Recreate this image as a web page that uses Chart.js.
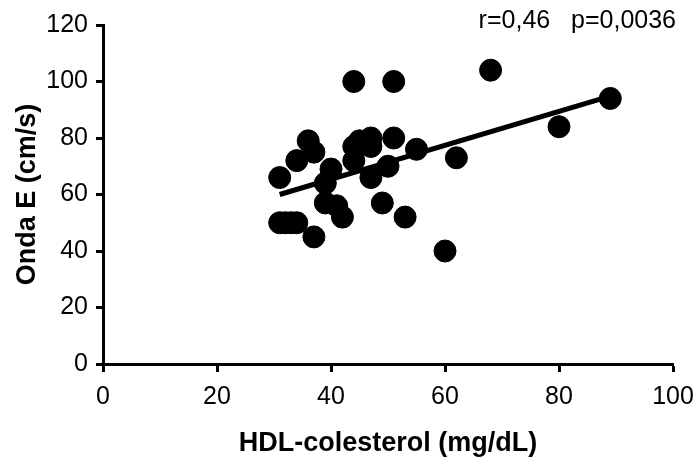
<!DOCTYPE html>
<html>
<head>
<meta charset="utf-8">
<script src="https://cdn.jsdelivr.net/npm/chart.js@4"></script>
<style>
html, body { margin: 0; padding: 0; background: #fff; }
</style>
</head>
<body>
<canvas id="hdl_chart" width="695" height="462"></canvas>
<script>
// HDL-colesterol (mg/dL) vs Onda E (cm/s)
var hdl   = [31, 31, 32, 33, 34, 34, 36, 37, 37, 39, 40, 39, 41, 42, 44, 45, 44, 44, 47, 47, 47, 50, 51, 51, 49, 53, 55, 60, 62, 68, 80, 89];
var ondaE = [66, 50, 50, 50, 50, 72, 79, 75, 45, 64, 69, 57, 56, 52, 100, 79, 77, 72, 80, 66, 77, 70, 80, 100, 57, 52, 76, 40, 73, 104, 84, 94];

// regression line ends
var fitX = [31, 89];
var fitY = [60, 94.8];

var xTicks = [0, 20, 40, 60, 80, 100];
var yTicks = [0, 20, 40, 60, 80, 100, 120];
var statsText = 'r=0,46   p=0,0036';

var font = 'Liberation Sans, Arial, Helvetica, sans-serif';

var points = [];
for (var i = 0; i < hdl.length; i++) {
  points.push({x: hdl[i], y: ondaE[i]});
}
var fit = [];
for (var j = 0; j < fitX.length; j++) {
  fit.push({x: fitX[j], y: fitY[j]});
}

var statsLabel = {
  id: 'statsLabel',
  afterDraw: function(chart) {
    var ctx = chart.ctx;
    ctx.save();
    ctx.font = '25px ' + font;
    ctx.fillStyle = '#000';
    ctx.textAlign = 'right';
    ctx.textBaseline = 'alphabetic';
    ctx.fillText(statsText, 676, 28);
    ctx.restore();
  }
};

var ctx = document.getElementById('hdl_chart').getContext('2d');
var scatter = new Chart(ctx, {
  type: 'scatter',
  data: {
    datasets: [{
      label: 'Pacientes',
      data: points,
      backgroundColor: '#000',
      borderColor: '#000',
      pointRadius: 11,
      pointBorderWidth: 1,
      pointStyle: 'circle',
      clip: false
    }, {
      label: 'Regressao',
      type: 'line',
      data: fit,
      borderColor: '#000',
      borderWidth: 5,
      pointRadius: 0,
      fill: false,
      clip: false
    }]
  },
  options: {
    responsive: false,
    animation: false,
    layout: {
      padding: {top: 25, right: 22, left: 0, bottom: 0}
    },
    plugins: {
      legend: {display: false},
      tooltip: {enabled: false},
      title: {display: false}
    },
    scales: {
      x: {
        type: 'linear',
        min: 0,
        max: 100,
        afterBuildTicks: function(scale) {
          scale.ticks = xTicks.map(function(v) { return {value: v}; });
        },
        afterFit: function(scale) {
          scale.height = 98;
          scale.paddingRight = 0;
          scale.paddingLeft = 0;
        },
        border: {display: true, color: '#000', width: 3},
        grid: {drawOnChartArea: false, drawTicks: true, tickLength: 8, tickWidth: 3, tickColor: '#000', color: '#000'},
        ticks: {color: '#000', padding: 10, font: {family: font, size: 25}, maxRotation: 0},
        title: {display: true, text: 'HDL-colesterol (mg/dL)', color: '#000', padding: {top: 14, bottom: 2}, font: {family: font, size: 27, weight: 'bold'}}
      },
      y: {
        type: 'linear',
        min: 0,
        max: 120,
        afterBuildTicks: function(scale) {
          scale.ticks = yTicks.map(function(v) { return {value: v}; });
        },
        afterFit: function(scale) {
          scale.width = 103;
          scale.paddingTop = 0;
          scale.paddingBottom = 0;
        },
        border: {display: true, color: '#000', width: 3},
        grid: {drawOnChartArea: false, drawTicks: true, tickLength: 7, tickWidth: 3, tickColor: '#000', color: '#000'},
        ticks: {color: '#000', padding: 8, font: {family: font, size: 25}},
        title: {display: true, text: 'Onda E (cm/s)', color: '#000', padding: {top: 11, bottom: 4}, font: {family: font, size: 27, weight: 'bold'}}
      }
    }
  },
  plugins: [statsLabel]
});
</script>
</body>
</html>
